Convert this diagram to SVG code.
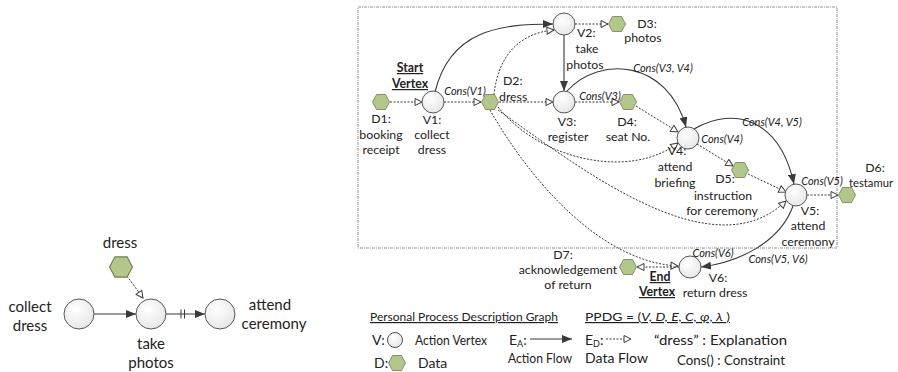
<svg xmlns="http://www.w3.org/2000/svg" width="898" height="372" viewBox="0 0 898 372">
  <defs>
    <radialGradient id="vfill" cx="0.4" cy="0.35" r="0.7">
      <stop offset="0" stop-color="#ffffff"/>
      <stop offset="1" stop-color="#e6e6e6"/>
    </radialGradient>
    <polygon id="hex" points="-8.5,0 -4.5,-7.5 4.5,-7.5 8.5,0 4.5,7.5 -4.5,7.5"/>
    <marker id="solid" viewBox="0 0 10 8" refX="10" refY="4" markerWidth="10" markerHeight="8" markerUnits="userSpaceOnUse" orient="auto">
      <path d="M0,0 L10,4 L0,8 Z" fill="#3a3a3a"/>
    </marker>
    <marker id="open" viewBox="-1 -1 9 9" refX="7" refY="3.5" markerWidth="9" markerHeight="9" markerUnits="userSpaceOnUse" orient="auto">
      <path d="M0,0 L7,3.5 L0,7 Z" fill="#ffffff" stroke="#3a3a3a" stroke-width="1"/>
    </marker>
  </defs>
  <style>
    text { font-family: Lato, "Liberation Sans", sans-serif; fill: #222; }
    .lb { font-size: 12.3px; text-anchor: middle; }
    .ls { font-size: 12.3px; }
    .cn { font-size: 11px; font-style: italic; text-anchor: middle; }
    .bv { font-size: 12.3px; font-weight: bold; text-anchor: middle; text-decoration: underline; }
    .big { font-size: 15px; text-anchor: middle; }
    .lg { font-size: 14px; }
    .lt { font-size: 12px; text-decoration: underline; }
    .v { fill: url(#vfill); stroke: #555; stroke-width: 1; }
    .d { fill: #b3c68b; stroke: #6f7f4c; stroke-width: 0.8; }
    .af { fill: none; stroke: #3a3a3a; stroke-width: 1.1; marker-end: url(#solid); }
    .df { fill: none; stroke: #3a3a3a; stroke-width: 1; stroke-dasharray: 2 1.5; marker-end: url(#open); }
    .frame { fill: none; stroke: #777; stroke-width: 0.8; stroke-dasharray: 3 1 1 1; }
  </style>

  <rect width="898" height="372" fill="#ffffff"/>

  <!-- simple example: collect dress -> take photos -> attend ceremony -->
  <g id="example">
    <g id="connectors-example">
      <line class="df" x1="127" y1="276" x2="143" y2="298"/>
      <line class="af" x1="94" y1="314" x2="136" y2="314"/>
      <line class="af" x1="166" y1="314" x2="205" y2="314"/>
      <line x1="181" y1="309.5" x2="181" y2="318.5" stroke="#3a3a3a" stroke-width="1"/>
      <line x1="184.5" y1="309.5" x2="184.5" y2="318.5" stroke="#3a3a3a" stroke-width="1"/>
    </g>
    <g id="ex-dress">
      <use href="#hex" class="d" transform="translate(121,267) scale(1.35)"/>
      <text class="big" x="120" y="248">dress</text>
    </g>
    <g id="ex-collect">
      <circle class="v" cx="79" cy="314" r="15"/>
      <text class="big" x="30" y="312">collect</text>
      <text class="big" x="30" y="331">dress</text>
    </g>
    <g id="ex-photos">
      <circle class="v" cx="151" cy="314" r="15"/>
      <text class="big" x="151" y="349">take</text>
      <text class="big" x="151" y="368">photos</text>
    </g>
    <g id="ex-ceremony">
      <circle class="v" cx="220" cy="314" r="15"/>
      <text class="big" x="270" y="310">attend</text>
      <text class="big" x="274" y="329">ceremony</text>
    </g>
  </g>

  <!-- process description graph -->
  <rect class="frame" x="358" y="7" width="479" height="241"/>

  <g id="connectors">
    <line class="df" x1="390" y1="102" x2="422" y2="102"/>
    <path class="af" d="M435,92 C450,30 500,24 553,24"/>
    <line class="df" x1="444" y1="102" x2="481" y2="102"/>
    <path class="df" d="M494,95 C498,55 520,33 554,30"/>
    <line class="df" x1="499" y1="102" x2="553" y2="102"/>
    <line class="df" x1="575" y1="24" x2="608" y2="24"/>
    <line class="af" x1="564" y1="35" x2="564" y2="91"/>
    <line class="df" x1="575" y1="102" x2="619" y2="102"/>
    <path class="af" d="M567,91 C600,55 668,60 686,127"/>
    <line class="df" x1="636" y1="106" x2="678" y2="132"/>
    <path class="df" d="M498,107 C540,160 630,180 678,143"/>
    <path class="df" d="M498,110 C580,168 712,272 786,201"/>
    <path class="df" d="M490,110 C530,180 600,262 678,266"/>
    <line class="df" x1="697" y1="144" x2="733" y2="166"/>
    <path class="af" d="M694,129 C735,105 780,120 794,184"/>
    <line class="df" x1="748" y1="174" x2="786" y2="192"/>
    <line class="df" x1="807" y1="195" x2="838" y2="195"/>
    <path class="af" d="M793,206 C780,242 740,262 701,267"/>
    <line class="df" x1="679" y1="267" x2="637" y2="267"/>
  </g>

  <g id="D1">
    <use href="#hex" class="d" x="381" y="102"/>
    <text class="lb" x="381" y="123">D1:</text>
    <text class="lb" x="381" y="139">booking</text>
    <text class="lb" x="381" y="154">receipt</text>
  </g>
  <g id="V1">
    <circle class="v" cx="433" cy="102" r="11"/>
    <text class="bv" x="410" y="72">Start</text>
    <text class="bv" x="410" y="88">Vertex</text>
    <text class="lb" x="432" y="124">V1:</text>
    <text class="lb" x="432" y="139">collect</text>
    <text class="lb" x="432" y="154">dress</text>
    <text class="cn" x="465" y="95">Cons(V1)</text>
  </g>
  <g id="D2">
    <use href="#hex" class="d" x="490" y="102"/>
    <text class="ls" x="503" y="85">D2:</text>
    <text class="ls" x="499" y="101">dress</text>
  </g>
  <g id="V2">
    <circle class="v" cx="564" cy="24" r="11"/>
    <text class="ls" x="577" y="37">V2:</text>
    <text class="lb" x="587" y="53">take</text>
    <text class="lb" x="585" y="69">photos</text>
  </g>
  <g id="D3">
    <use href="#hex" class="d" x="617" y="24"/>
    <text class="lb" x="647" y="28">D3:</text>
    <text class="lb" x="643" y="42">photos</text>
  </g>
  <g id="V3">
    <circle class="v" cx="564" cy="102" r="11"/>
    <text class="lb" x="567" y="126">V3:</text>
    <text class="lb" x="568" y="141">register</text>
    <text class="cn" x="600" y="100">Cons(V3)</text>
    <text class="cn" x="663" y="72">Cons(V3, V4)</text>
  </g>
  <g id="D4">
    <use href="#hex" class="d" x="628" y="102"/>
    <text class="lb" x="627" y="126">D4:</text>
    <text class="lb" x="628" y="141">seat No.</text>
  </g>
  <g id="V4">
    <circle class="v" cx="688" cy="138" r="11"/>
    <text class="lb" x="677" y="155">V4:</text>
    <text class="lb" x="675" y="171">attend</text>
    <text class="lb" x="675" y="187">briefing</text>
    <text class="cn" x="722" y="143">Cons(V4)</text>
    <text class="cn" x="772" y="126">Cons(V4, V5)</text>
  </g>
  <g id="D5">
    <use href="#hex" class="d" x="740" y="170"/>
    <text class="lb" x="725" y="183">D5:</text>
    <text class="lb" x="723" y="200">instruction</text>
    <text class="lb" x="722" y="215">for ceremony</text>
  </g>
  <g id="V5">
    <circle class="v" cx="796" cy="195" r="11"/>
    <text class="cn" x="822" y="185">Cons(V5)</text>
    <text class="lb" x="810" y="215">V5:</text>
    <text class="lb" x="808" y="230">attend</text>
    <text class="lb" x="808" y="246">ceremony</text>
    <text class="cn" x="778" y="263">Cons(V5, V6)</text>
  </g>
  <g id="D6">
    <use href="#hex" class="d" x="847" y="195"/>
    <text class="lb" x="875" y="172">D6:</text>
    <text class="ls" x="849" y="187" textLength="44" lengthAdjust="spacingAndGlyphs">testamur</text>
  </g>
  <g id="V6">
    <circle class="v" cx="690" cy="267" r="11"/>
    <text class="cn" x="713" y="257">Cons(V6)</text>
    <text class="bv" x="660" y="281">End</text>
    <text class="bv" x="657" y="296">Vertex</text>
    <text class="lb" x="718" y="282">V6:</text>
    <text class="lb" x="715" y="297">return dress</text>
  </g>
  <g id="D7">
    <use href="#hex" class="d" x="628" y="267"/>
    <text class="lb" x="563" y="259">D7:</text>
    <text class="lb" x="568" y="274">acknowledgement</text>
    <text class="lb" x="568" y="289">of return</text>
  </g>

  <!-- legend -->
  <g id="legend">
    <text class="lt" x="370" y="321" textLength="188" lengthAdjust="spacingAndGlyphs">Personal Process Description Graph</text>
    <text class="lg" x="372" y="345">V:</text>
    <circle class="v" cx="395" cy="340" r="7.5"/>
    <text class="lg" x="415" y="345" textLength="72" lengthAdjust="spacingAndGlyphs">Action Vertex</text>
    <text class="lg" x="374" y="368">D:</text>
    <use href="#hex" class="d" x="397" y="363"/>
    <text class="lg" x="418" y="368">Data</text>

    <text class="lg" x="509" y="345">E<tspan font-size="9" dy="2">A</tspan><tspan dy="-2">:</tspan></text>
    <line class="af" x1="530" y1="339" x2="572" y2="339"/>
    <text class="lg" x="508" y="363" textLength="64" lengthAdjust="spacingAndGlyphs">Action  Flow</text>

    <text class="lg" x="585" y="345">E<tspan font-size="9" dy="2">D</tspan><tspan dy="-2">:</tspan></text>
    <line class="df" x1="606" y1="339" x2="631" y2="339"/>
    <text class="lg" x="585" y="363" textLength="63" lengthAdjust="spacingAndGlyphs">Data Flow</text>

    <text class="lt" x="585" y="321" textLength="145" lengthAdjust="spacingAndGlyphs">PPDG = (<tspan font-style="italic">V, D, E, C, ɸ,  λ </tspan>)</text>
    <text class="lg" x="654" y="345" textLength="133" lengthAdjust="spacingAndGlyphs">“dress” : Explanation</text>
    <text class="lg" x="677" y="365" textLength="108" lengthAdjust="spacingAndGlyphs">Cons()  :  Constraint</text>
  </g>
</svg>
